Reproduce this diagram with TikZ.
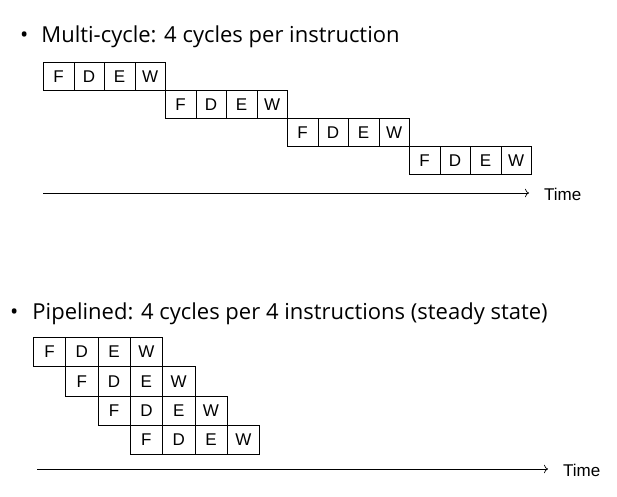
\documentclass[tikz,border=0pt]{standalone}
\usepackage{fontspec}
\usetikzlibrary{arrows.meta}
\setmainfont{Liberation Sans}
\newfontfamily\headfont{Open Sans}
\begin{document}
\begin{tikzpicture}[x=1pt,y=-1pt,
  cellbox/.style={draw,line width=0.7pt,anchor=north west,inner sep=0pt,font=\fontsize{17}{19}\selectfont},
  head/.style={anchor=base west,inner sep=0pt,font=\headfont\fontsize{22}{26}\selectfont},
  axis/.style={-{To[length=4pt]},line width=0.7pt},
  lbl/.style={anchor=west,inner sep=0pt,font=\fontsize{17}{19}\selectfont}]
\useasboundingbox (0,0) rectangle (617,496);
\node[head] (h1) at (20,42) {•\hspace{13pt}Multi-cycle: 4 cycles per instruction};
\foreach \r in {0,1,2,3}{
  \foreach \t [count=\i from 0] in {F,D,E,W}{
    \node[cellbox,minimum width=30.5pt,minimum height=28pt] (a\r\i) at ({43+122*\r+30.5*\i},{62+28*\r}) {\t};
  }}
\coordinate (a0) at (43,193);
\coordinate (a1) at (529,193);
\draw[axis] (a0) -- (a1);
\node[lbl] (t1) at (544,194) {Time};
\node[head] (h2) at (10,319) {•\hspace{14pt}Pipelined: 4 cycles per 4 instructions (steady state)};
\foreach \r in {0,1,2,3}{
  \foreach \t [count=\i from 0] in {F,D,E,W}{
    \node[cellbox,minimum width=32.3pt,minimum height=29.3pt] (b\r\i) at ({33+32.3*\r+32.3*\i},{337+29.3*\r}) {\t};
  }}
\coordinate (b0) at (37,469);
\coordinate (b1) at (548,469);
\draw[axis] (b0) -- (b1);
\node[lbl] (t2) at (563,470) {Time};
\end{tikzpicture}
\end{document}
